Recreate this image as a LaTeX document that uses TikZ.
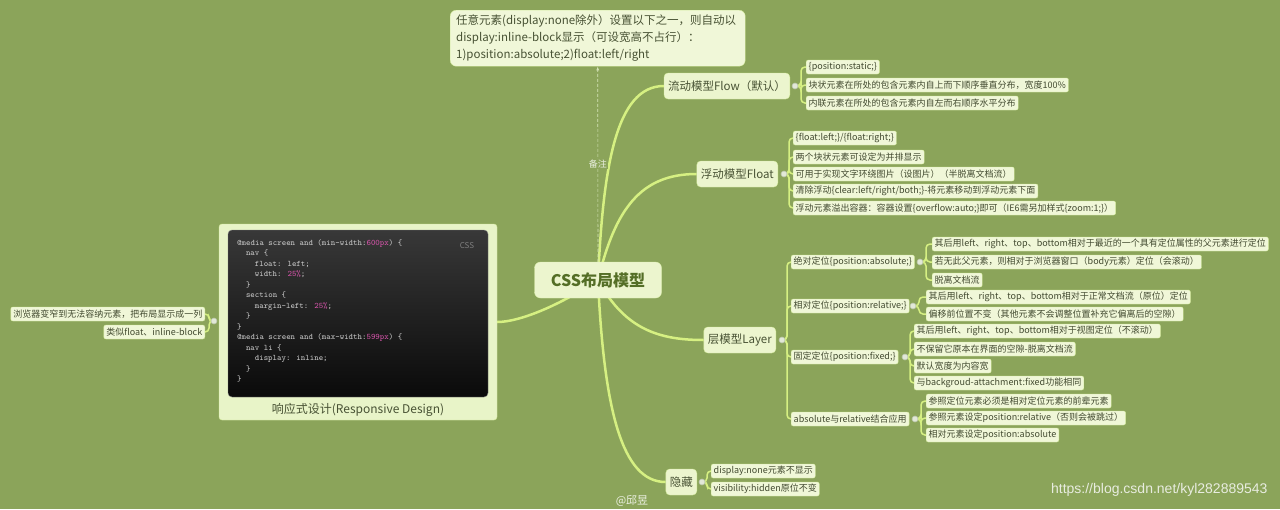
\documentclass[tikz,border=0pt]{standalone}
\usepackage{fontspec}
\newfontfamily\cjk{Noto Sans CJK SC}
\newfontfamily\urlfont{Liberation Sans}
\usetikzlibrary{arrows.meta}
\definecolor{bgcolor}{RGB}{139,164,90}
\definecolor{nodefill}{RGB}{236,245,206}
\definecolor{leaffill}{RGB}{240,247,216}
\definecolor{nodeline}{RGB}{214,236,160}
\definecolor{hubline}{RGB}{222,240,176}
\definecolor{hubtext}{RGB}{84,110,38}
\definecolor{topictext}{RGB}{72,82,52}
\definecolor{leaftext}{RGB}{66,74,48}
\definecolor{branchline}{RGB}{214,240,130}
\definecolor{knobfill}{RGB}{226,232,216}
\definecolor{knobline}{RGB}{186,198,170}
\definecolor{memoarrow}{RGB}{214,228,184}
\definecolor{memotext}{RGB}{236,240,226}
\definecolor{respfill}{RGB}{232,244,200}
\definecolor{codetext}{RGB}{200,200,200}
\definecolor{codenum}{RGB}{214,84,170}
\definecolor{wmtext}{RGB}{232,236,224}
\pgfdeclarelayer{back}
\pgfdeclarelayer{wires}
\pgfsetlayers{back,wires,main}
\newcommand\codeind[1]{\hspace*{#1}}
\begin{document}
\begin{tikzpicture}[x=1pt,y=-1pt,
  hub/.style={draw=hubline, fill=nodefill, rounded corners=6pt, minimum width=127pt, minimum height=36pt, text=hubtext, font=\cjk\bfseries\fontsize{16}{18}\selectfont},
  topic/.style={draw=nodeline, fill=nodefill, rounded corners=4pt, minimum height=26pt, inner xsep=4pt, text=topictext, font=\cjk\fontsize{11.5}{14}\selectfont},
  leaf/.style={draw=nodeline, fill=leaffill, rounded corners=2pt, minimum height=14pt, inner xsep=2.5pt, inner ysep=1pt, anchor=west, text=leaftext, font=\cjk\fontsize{9}{11}\selectfont},
  knob/.style={circle, draw=knobline, fill=knobfill, line width=0.6pt, inner sep=0pt, minimum size=6pt},
  branch/.style={draw=branchline, line width=2.5pt},
  twig/.style={draw=branchline, line width=1.5pt, rounded corners=4pt},
  memoline/.style={draw=memoarrow, densely dashed, line width=0.6pt, -{Latex[length=4pt,width=3pt]}},
]
\begin{pgfonlayer}{back}
\fill[bgcolor] (0,0) rectangle (1280,509);
\end{pgfonlayer}
\useasboundingbox (0,0) rectangle (1280,509);

% centre and note
\node[hub] (css) at (598,280) {CSS布局模型};
\node[draw=nodeline, fill=leaffill, rounded corners=6pt, anchor=north west, text width=283pt, inner xsep=6pt, inner ysep=4pt, minimum height=56pt, align=left, text=topictext, font=\cjk\fontsize{11.5}{17}\selectfont] (memo) at (450,10)
  {任意元素(display:none除外）设置以下之一，则自动以\\display:inline-block显示（可设宽高不占行）：\\1)position:absolute;2)float:left/right};
\draw[memoline] (css.north) -- (memo.south)
  node[pos=0.5, fill=bgcolor, inner sep=1pt, text=memotext, font=\cjk\fontsize{9}{10}\selectfont] (memotag) {备注};

% main topics
\node[topic, anchor=east] (flow) at (790,86) {流动模型Flow（默认）};
\node[topic, anchor=east] (float) at (778,174) {浮动模型Float};
\node[topic, anchor=east] (layer) at (776,340) {层模型Layer};
\node[topic, anchor=east] (hide) at (697,482) {隐藏};

% responsive design panel
\node[draw=nodeline, fill=respfill, rounded corners=3pt, minimum width=278pt, minimum height=196pt] (resp) at (358,322) {};
\draw[rounded corners=4pt, draw=gray, top color=black!78, bottom color=black!96] (228,230) rectangle (488,397);
\node[anchor=north west, inner sep=0pt, align=left, text=codetext, font=\ttfamily\fontsize{8.4}{10.5}\selectfont] (code) at (237,239)
  {@media screen and (min-width:\textcolor{codenum}{600px}) \{\\
   \codeind{1.05em}nav \{\\
   \codeind{2.1em}float: left;\\
   \codeind{2.1em}width: \textcolor{codenum}{25\%};\\
   \codeind{1.05em}\}\\
   \codeind{1.05em}section \{\\
   \codeind{2.1em}margin-left: \textcolor{codenum}{25\%};\\
   \codeind{1.05em}\}\\
   \}\\
   @media screen and (max-width:\textcolor{codenum}{599px}) \{\\
   \codeind{1.05em}nav li \{\\
   \codeind{2.1em}display: inline;\\
   \codeind{1.05em}\}\\
   \}};
\node[text=gray, font=\cjk\fontsize{8}{9}\selectfont] (csstag) at (467,246) {CSS};
\node[text=topictext, font=\cjk\fontsize{12}{14}\selectfont] (resplabel) at (358,410) {响应式设计(Responsive Design)};

% knobs
\node[knob] (flowk) at (795,86) {};
\node[knob] (floatk) at (784,174) {};
\node[knob] (layerk) at (782,340) {};
\node[knob] (hidek) at (702,482) {};
\node[knob] (respk) at (214,321) {};

% flow
\node[leaf] (flowa) at (806,67) {\{position:static;\}};
\node[leaf] (flowb) at (806,85) {块状元素在所处的包含元素内自上而下顺序垂直分布，宽度100\%};
\node[leaf] (flowc) at (806,103) {内联元素在所处的包含元素内自左而右顺序水平分布};

% float
\node[leaf] (floata) at (793,138) {\{float:left;\}/\{float:right;\}};
\node[leaf] (floatb) at (793,157) {两个块状元素可设定为并排显示};
\node[leaf] (floatc) at (793,174) {可用于实现文字环绕图片（设图片）（半脱离文档流）};
\node[leaf] (floatd) at (793,191) {清除浮动\{clear:left/right/both;\}-将元素移动到浮动元素下面};
\node[leaf] (floate) at (793,208) {浮动元素溢出容器：容器设置\{overflow:auto;\}即可（IE6需另加样式\{zoom:1;\}）};

% layer
\node[leaf] (abs) at (791,262) {绝对定位\{position:absolute;\}};
\node[leaf] (rel) at (791,306) {相对定位\{position:relative;\}};
\node[leaf] (fix) at (791,357) {固定定位\{position:fixed;\}};
\node[leaf] (comb) at (791,419) {absolute与relative结合应用};
\node[knob] (absk) at (920,262) {};
\node[knob] (relk) at (913,306) {};
\node[knob] (fixk) at (905,357) {};
\node[knob] (combk) at (915,419) {};

\node[leaf] (absa) at (932,244) {其后用left、right、top、bottom相对于最近的一个具有定位属性的父元素进行定位};
\node[leaf] (absb) at (932,262) {若无此父元素，则相对于浏览器窗口（body元素）定位（会滚动）};
\node[leaf] (absc) at (932,280) {脱离文档流};
\node[leaf] (rela) at (926,297) {其后用left、right、top、bottom相对于正常文档流（原位）定位};
\node[leaf] (relb) at (926,314) {偏移前位置不变（其他元素不会调整位置补充它偏离后的空隙）};
\node[leaf] (fixa) at (914,331) {其后用left、right、top、bottom相对于视图定位（不滚动）};
\node[leaf] (fixb) at (914,349) {不保留它原本在界面的空隙-脱离文档流};
\node[leaf] (fixc) at (914,366) {默认宽度为内容宽};
\node[leaf] (fixd) at (914,383) {与backgroud-attachment:fixed功能相同};
\node[leaf] (comba) at (926,401) {参照定位元素必须是相对定位元素的前辈元素};
\node[leaf] (combb) at (926,418) {参照元素设定position:relative（否则会被跳过）};
\node[leaf] (combc) at (926,435) {相对元素设定position:absolute};

% hide
\node[leaf] (hidea) at (711,471) {display:none元素不显示};
\node[leaf] (hideb) at (711,489) {visibility:hidden原位不变};

% responsive
\node[leaf, anchor=east] (respa) at (205,314) {浏览器变窄到无法容纳元素，把布局显示成一列};
\node[leaf, anchor=east] (respb) at (205,332) {类似float、inline-block};

% connectors
\begin{pgfonlayer}{wires}
\draw[branch] (css.center) .. controls (603,170) and (615,86) .. (flow.west);
\draw[branch] (css.center) .. controls (615,210) and (640,174) .. (float.west);
\draw[branch] (css.center) .. controls (625,330) and (660,340) .. (layer.west);
\draw[branch] (css.center) .. controls (604,410) and (622,482) .. (hide.west);
\draw[branch] (css.center) .. controls (560,305) and (520,322) .. (resp.east);
\foreach \n in {flowa,flowb,flowc} \draw[twig] (flowk.center) -- ++(6,0) |- (\n.west);
\foreach \n in {floata,floatb,floatc,floatd,floate} \draw[twig] (floatk.center) -- ++(5,0) |- (\n.west);
\foreach \n in {abs,rel,fix,comb} \draw[twig] (layerk.center) -- ++(5,0) |- (\n.west);
\foreach \n in {absa,absb,absc} \draw[twig] (absk.center) -- ++(6,0) |- (\n.west);
\foreach \n in {rela,relb} \draw[twig] (relk.center) -- ++(6,0) |- (\n.west);
\foreach \n in {fixa,fixb,fixc,fixd} \draw[twig] (fixk.center) -- ++(5,0) |- (\n.west);
\foreach \n in {comba,combb,combc} \draw[twig] (combk.center) -- ++(6,0) |- (\n.west);
\foreach \n in {hidea,hideb} \draw[twig] (hidek.center) -- ++(5,0) |- (\n.west);
\foreach \n in {respa,respb} \draw[twig] (respk.center) -- ++(-5,0) |- (\n.east);
\end{pgfonlayer}

% marks
\node[anchor=east, text=wmtext, font=\urlfont\fontsize{14}{16}\selectfont] (wm) at (1271,490) {https://blog.csdn.net/kyl282889543};
\node[text=memotext, font=\cjk\fontsize{11}{12}\selectfont] (sig) at (632,501) {@邱昱};
\end{tikzpicture}
\end{document}
